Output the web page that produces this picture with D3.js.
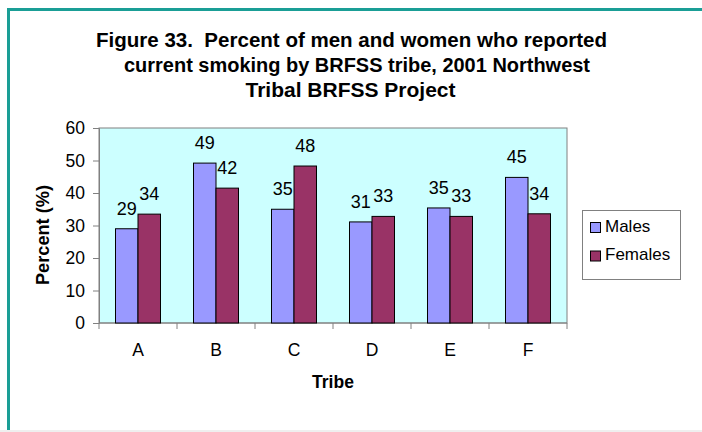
<!DOCTYPE html>
<html>
<head>
<meta charset="utf-8">
<script src="https://cdn.jsdelivr.net/npm/d3@7"></script>
<style>
  html, body { margin: 0; padding: 0; background: #ffffff; }
  svg { display: block; font-family: "Liberation Sans", Arial, Helvetica, sans-serif; }
  .title { white-space: pre; }
</style>
</head>
<body>
<svg id="chart" width="702" height="432"></svg>
<script>
// ---- data ----
const tribes = ["A", "B", "C", "D", "E", "F"];
const males = [29.0, 49.2, 35.0, 31.1, 35.4, 44.8];
const females = [33.5, 41.5, 48.3, 32.8, 32.8, 33.6];
const seriesNames = ["Males", "Females"];
const seriesColors = ["#9999FF", "#993366"];
const yTicks = [0, 10, 20, 30, 40, 50, 60];
const titleLines = [
  "Figure 33.  Percent of men and women who reported",
  "current smoking by BRFSS tribe, 2001 Northwest",
  "Tribal BRFSS Project"
];

const svg = d3.select("#chart");

// frame
svg.append("rect").attr("x", 0).attr("y", 430).attr("width", 702).attr("height", 2).attr("fill", "#efefef");
svg.append("rect").attr("x", 7).attr("y", 8).attr("width", 700).attr("height", 3).attr("fill", "#1a9e96");
svg.append("rect").attr("x", 7).attr("y", 8).attr("width", 3).attr("height", 422).attr("fill", "#1a9e96");

// title
const titleSpecs = [
  { x: 96, y: 46.7, w: 511 },
  { x: 124, y: 72, w: 466 },
  { x: 245.5, y: 97.3, w: 210 }
];
titleLines.forEach((t, i) => {
  svg.append("text").attr("class", "title")
    .attr("x", titleSpecs[i].x).attr("y", titleSpecs[i].y)
    .attr("font-size", 20).attr("font-weight", "bold").attr("fill", "#000")
    .attr("textLength", titleSpecs[i].w).attr("lengthAdjust", "spacingAndGlyphs")
    .text(t);
});

// plot area
const L = 99, R = 567, T = 128, B = 323;
const y = d3.scaleLinear().domain([0, 60]).range([B, T]);
const pad = 33 / 78;
const x0 = d3.scaleBand().domain(tribes).range([L, R]).paddingInner(pad).paddingOuter(pad / 2);
const x1 = d3.scaleBand().domain(seriesNames).range([0, x0.bandwidth()]);

svg.append("rect").attr("x", L).attr("y", T).attr("width", R - L).attr("height", B - T)
  .attr("fill", "#CCFFFF").attr("stroke", "#808080").attr("stroke-width", 1);

// y axis
const yAxis = svg.append("g").attr("transform", `translate(${L},0)`)
  .call(d3.axisLeft(y).tickValues(yTicks).tickSize(6).tickPadding(8).tickFormat(d3.format("d")));
yAxis.select(".domain").attr("stroke", "#808080");
yAxis.selectAll(".tick line").attr("stroke", "#808080");
yAxis.selectAll(".tick text").attr("font-size", 17.5).attr("fill", "#000")
  .attr("font-family", "Liberation Sans, Arial, sans-serif");

// x axis (ticks at category boundaries)
const boundaries = tribes.map((t, i) => L + i * x0.step()).concat([R]);
const xAxisG = svg.append("g");
xAxisG.append("line").attr("x1", L).attr("x2", R).attr("y1", B).attr("y2", B).attr("stroke", "#808080");
xAxisG.selectAll("line.tk").data(boundaries).enter().append("line").attr("class", "tk")
  .attr("x1", d => d).attr("x2", d => d).attr("y1", B).attr("y2", B + 6).attr("stroke", "#808080");
xAxisG.selectAll("text").data(tribes).enter().append("text")
  .attr("x", d => x0(d) + x0.bandwidth() / 2).attr("y", 355.5)
  .attr("text-anchor", "middle").attr("font-size", 17.5).attr("fill", "#000").text(d => d);

// bars
const rows = tribes.map((t, i) => ({ tribe: t, vals: [males[i], females[i]] }));
const groups = svg.selectAll("g.grp").data(rows).enter().append("g").attr("class", "grp")
  .attr("transform", d => `translate(${x0(d.tribe)},0)`);
groups.selectAll("rect").data(d => d.vals.map((v, j) => ({ v, s: seriesNames[j], c: seriesColors[j] })))
  .enter().append("rect")
  .attr("x", d => x1(d.s)).attr("width", x1.bandwidth())
  .attr("y", d => y(d.v)).attr("height", d => B - y(d.v))
  .attr("fill", d => d.c).attr("stroke", "#000").attr("stroke-width", 1);
groups.selectAll("text").data(d => d.vals.map((v, j) => ({ v, s: seriesNames[j] })))
  .enter().append("text")
  .attr("x", d => x1(d.s) + x1.bandwidth() / 2).attr("y", d => y(d.v) - 14)
  .attr("text-anchor", "middle").attr("font-size", 18).attr("fill", "#000")
  .text(d => Math.round(d.v));

// axis titles
svg.append("text").attr("transform", "translate(49,235) rotate(-90)")
  .attr("text-anchor", "middle").attr("font-size", 17.5).attr("font-weight", "bold")
  .attr("textLength", 100).attr("lengthAdjust", "spacingAndGlyphs").text("Percent (%)");
svg.append("text").attr("x", 333).attr("y", 387.5).attr("text-anchor", "middle")
  .attr("font-size", 17.5).attr("font-weight", "bold").text("Tribe");

// legend
const lg = svg.append("g");
lg.append("rect").attr("x", 582.5).attr("y", 210.5).attr("width", 98).attr("height", 69)
  .attr("fill", "#fff").attr("stroke", "#808080").attr("stroke-width", 1);
seriesNames.forEach((s, i) => {
  lg.append("rect").attr("x", 590.5).attr("y", 222.5 + i * 28.5).attr("width", 10).attr("height", 10)
    .attr("fill", seriesColors[i]).attr("stroke", "#000").attr("stroke-width", 1);
  lg.append("text").attr("x", 605).attr("y", 231.5 + i * 28.5).attr("font-size", 17).attr("fill", "#000").text(s);
});
</script>
</body>
</html>
